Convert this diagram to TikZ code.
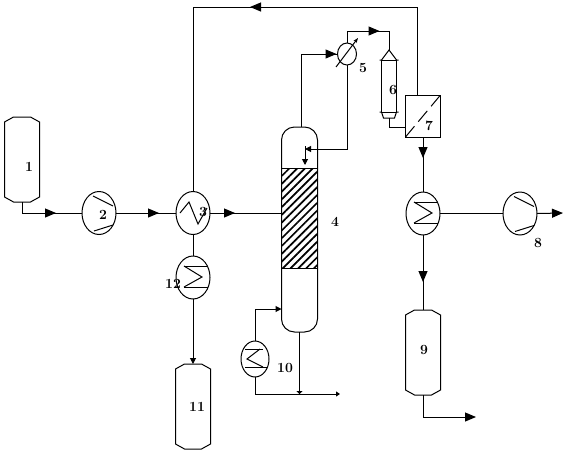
\documentclass[tikz,border=0pt]{standalone}
\usetikzlibrary{positioning,arrows.meta,shapes.geometric,patterns.meta,decorations.markings}
\begin{document}
\begin{tikzpicture}[
    x=1pt,y=-1pt,
    line width=1pt,
    node distance=60pt,
    every node/.style={outer sep=0pt,inner sep=0pt},
    numlabel/.style={font=\fontsize{14}{16}\selectfont\bfseries},
    vessel/.style={minimum width=35pt,minimum height=85pt,
        append after command={\pgfextra{
        \draw ([shift={(9,0)}]\tikzlastnode.north west) -- ([shift={(-9,0)}]\tikzlastnode.north east)
          -- ([shift={(0,5)}]\tikzlastnode.north east) -- ([shift={(0,-5)}]\tikzlastnode.south east)
          -- ([shift={(-9,0)}]\tikzlastnode.south east) -- ([shift={(9,0)}]\tikzlastnode.south west)
          -- ([shift={(0,-5)}]\tikzlastnode.south west) -- ([shift={(0,5)}]\tikzlastnode.north west) -- cycle;}}},
    hxcase/.style={ellipse,draw,minimum width=34pt,minimum height=43pt},
    comp/.style={hxcase,path picture={
        \draw ([shift={(-6,-17)}]path picture bounding box.center) -- ++(20,10);
        \draw ([shift={(-5,18)}]path picture bounding box.center) -- ++(19,-6);}},
    hxcond/.style={hxcase,path picture={
        \draw ([shift={(-9,-11.5)}]path picture bounding box.center) -- ++(27,0);
        \draw ([shift={(-9,9.5)}]path picture bounding box.center) -- ++(27,0);
        \draw ([shift={(-9,-11.5)}]path picture bounding box.center) -- ++(18,11) -- ++(-18,10);}},
    flow/.style={decoration={markings,mark=at position #1 with
        {\arrow{Triangle[length=11pt,width=9pt]}}},postaction=decorate},
    arrow/.style={-{Triangle[length=6pt,width=6pt]}}
]
\useasboundingbox (0,0) rectangle (564,450);
\node[vessel] (feed) at (22,159.5) {};
\node[hxcase,path picture={
    \draw ([shift={(-13,0)}]path picture bounding box.center) -- ++(9,-11) -- ++(9,22) -- ++(9,-16);}]
    (hxthree) at (193,213) {};
\node[comp,left=of hxthree] (compfeed) {};
\node[hxcond,below=21.5pt of hxthree] (hxcool) {};
\node[vessel,below=65pt of hxcool] (residue) {};
\node[draw,rounded corners=13pt,minimum width=36pt,minimum height=205pt] (column) at (299.5,229.5) {};
\node[draw,minimum width=36pt,minimum height=100pt,
      pattern={Lines[angle=45,distance=5.5pt,line width=1.7pt]}] (packing) at (299.5,218) {};
\node[ellipse,draw,minimum width=19pt,minimum height=22pt] (hxtop) at (347,54) {};
\draw[-{Stealth[length=5pt]}] ([shift={(-11,13)}]hxtop.center) -- ([shift={(11,-16)}]hxtop.center);
\node[draw,minimum width=15pt,minimum height=52pt] (sep) at (389,86) {};
\coordinate (septop) at (389,50);
\coordinate (sepbot) at (389,118);
\draw (sep.north west) -- ++(-2,0) ++(2,0) -- (septop) -- (sep.north east) -- ++(2,0);
\draw (sep.south west) -- ++(-2,0) ++(2,0) -- ++(2,6) -- ++(11,0) -- (sep.south east) -- ++(2,0);
\node[hxcond] (hxprod) at (423,213.5) {};
\node[draw,minimum width=35pt,minimum height=42pt,above=55pt of hxprod] (membrane) {};
\draw[dash pattern=on 14pt off 6pt] (membrane.south west) -- (membrane.north east);
\node[comp,right=63pt of hxprod] (compprod) {};
\node[vessel,below=75pt of hxprod] (product) {};
\node[ellipse,draw,minimum width=28pt,minimum height=36pt,path picture={
    \draw ([shift={(-10,-10)}]path picture bounding box.center) -- ++(18,0);
    \draw ([shift={(-10,8)}]path picture bounding box.center) -- ++(23,0);
    \draw ([shift={(5,-10)}]path picture bounding box.center) -- ++(-13,10) -- ++(16,8);}]
    (hxreb) at (255,359) {};
\coordinate (compout) at (563,213);
\coordinate (prodout) at (476,417);
\coordinate (botout) at (340,394);
\coordinate (refluxin) at (305,149);
\coordinate (refluxend) at (305,165);
\draw[flow=45pt] (feed.south) |- (compfeed.west);
\draw[flow=43pt] (compfeed.east) -- (hxthree.west);
\draw[flow=25pt] (hxthree.east) -- (column.west |- hxthree.east);
\draw (hxthree.south) -- (hxcool.north);
\draw[arrow] (hxcool.south) -- (residue.north);
\draw[flow=108pt] ([xshift=2pt]column.north) |- (hxtop.west);
\draw[flow=44.5pt] (hxtop.north) |- ++(42,-12) -- (septop);
\draw[arrow] (hxtop.south) |- (refluxin);
\draw[arrow] ([yshift=3pt]refluxin) -- (refluxend);
\draw (sepbot) |- ([yshift=-11pt]membrane.west);
\draw[flow=255pt] ([xshift=-6pt]membrane.north) -- ++(0,-88) -| (hxthree.north);
\draw[flow=21pt] (membrane.south) -- (hxprod.north);
\draw (hxprod.east) -- (compprod.west);
\draw[flow=47pt] (hxprod.south) -- (product.north);
\draw[-{Triangle[length=11pt,width=9pt]}] (compprod.east) -- (compout);
\draw[-{Triangle[length=11pt,width=9pt]}] (product.south) |- (prodout);
\draw[arrow] (hxreb.north) |- ([yshift=-79.5pt]column.west);
\draw[-{Triangle[length=4pt,width=5pt]}] (hxreb.south) |- (botout);
\draw[-{Triangle[length=3pt,width=6pt]}] (column.south) -- (column.south |- botout);
\node[numlabel] (numone) at (29,167) {1};
\node[numlabel] (numtwo) at (103,215) {2};
\node[numlabel] (numthree) at (203,212) {3};
\node[numlabel] (numfour) at (335,222) {4};
\node[numlabel] (numfive) at (363,68) {5};
\node[numlabel] (numsix) at (393,90) {6};
\node[numlabel] (numseven) at (429,126) {7};
\node[numlabel] (numeight) at (538,243) {8};
\node[numlabel] (numnine) at (424,350) {9};
\node[numlabel] (numten) at (285,368) {10};
\node[numlabel] (numeleven) at (197,407) {11};
\node[numlabel] (numtwelve) at (173,284) {12};
\end{tikzpicture}
\end{document}
